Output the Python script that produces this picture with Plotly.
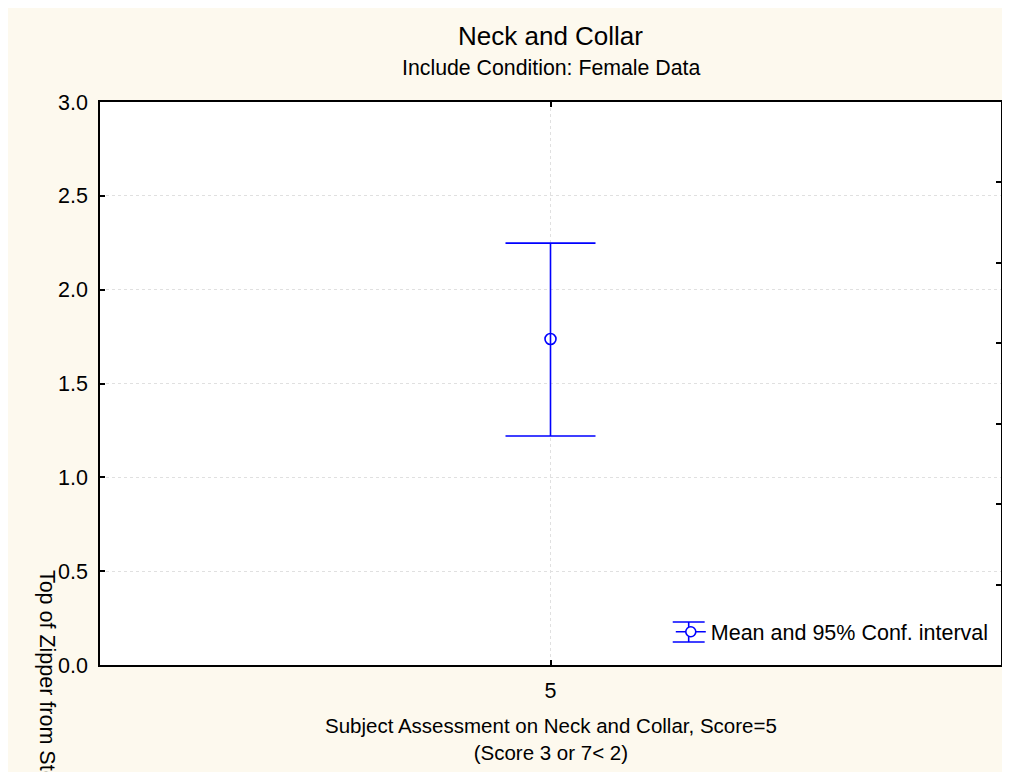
import plotly.graph_objects as go

# ---- data ----
categories = [5]
means = [1.737]
ci_lower = [1.22]
ci_upper = [2.248]
y_ticks = [0.0, 0.5, 1.0, 1.5, 2.0, 2.5, 3.0]
series_name = "Mean and 95% Conf. interval"

err_plus = [u - m for u, m in zip(ci_upper, means)]
err_minus = [m - l for m, l in zip(means, ci_lower)]

BLUE = "#0000FF"
CREAM = "#FDF9EE"
FONT = "Liberation Sans, Arial, sans-serif"
FS = 21.5

FIG_W, FIG_H = 1002, 764
# plot area in figure pixels
L, R, T, B = 92, 995, 94, 657
W, H = R - L, B - T


def px(x):
    return (x - L) / W


def py(y):
    return (B - y) / H


fig = go.Figure()
fig.add_trace(go.Scatter(
    x=categories, y=means, mode="markers",
    marker=dict(symbol="circle-open", size=11, color=BLUE, line=dict(width=1.6, color=BLUE)),
    error_y=dict(type="data", array=err_plus, arrayminus=err_minus, symmetric=False,
                 color=BLUE, thickness=1.6, width=45),
    showlegend=False, cliponaxis=False,
))
# legend entry
fig.add_trace(go.Scatter(
    x=[None], y=[None], mode="lines+markers", name=series_name,
    line=dict(color=BLUE, width=1.6),
    marker=dict(symbol="circle", size=10, color="white", line=dict(width=1.6, color=BLUE)),
    showlegend=True,
))
# dummy for right axis
fig.add_trace(go.Scatter(x=[None], y=[None], yaxis="y2", showlegend=False, hoverinfo="skip"))

axis_common = dict(showline=True, linecolor="black", linewidth=1.5, ticks="inside",
                   ticklen=5, tickcolor="black", tickwidth=1.5,
                   tickfont=dict(family=FONT, size=FS, color="black"))

fig.update_layout(
    width=FIG_W, height=FIG_H,
    margin=dict(l=L, r=FIG_W - R, t=T, b=FIG_H - B),
    paper_bgcolor=CREAM, plot_bgcolor="white",
    font=dict(family=FONT, size=FS, color="black"),
    xaxis=dict(range=[4, 6], tickvals=categories, ticktext=[str(c) for c in categories],
               mirror="ticks", showgrid=True, gridcolor="#E0E0E0", griddash="dot", gridwidth=1,
               zeroline=False, ticklabelstandoff=5, **axis_common),
    yaxis=dict(range=[0, 3], tickvals=y_ticks, ticktext=[f"{v:.1f}" for v in y_ticks],
               mirror=True, showgrid=True, gridcolor="#E0E0E0", griddash="dot", gridwidth=1,
               zeroline=False, ticklabelstandoff=6, **axis_common),
    yaxis2=dict(range=[0, 7], dtick=1, overlaying="y", side="right", showticklabels=False,
                showgrid=False, zeroline=False, showline=True, linecolor="black", linewidth=1.5,
                ticks="inside", ticklen=5, tickcolor="black", tickwidth=1.5),
    legend=dict(x=0.992, y=0.0226, xanchor="right", yanchor="bottom", bgcolor="rgba(0,0,0,0)",
                font=dict(family=FONT, size=FS, color="black")),
    showlegend=True,
)

fig.add_annotation(text="Neck and Collar", xref="paper", yref="paper", x=0.5, y=py(28),
                   xanchor="center", yanchor="middle", showarrow=False,
                   font=dict(family=FONT, size=26, color="black"))
fig.add_annotation(text="Include Condition: Female Data", xref="paper", yref="paper", x=0.5,
                   y=py(60), xanchor="center", yanchor="middle", showarrow=False,
                   font=dict(family=FONT, size=21.3, color="black"))
fig.add_annotation(text="Subject Assessment on Neck and Collar, Score=5<br>(Score 3 or 7< 2)",
                   xref="paper", yref="paper", x=0.5, y=py(731),
                   xanchor="center", yanchor="middle", showarrow=False,
                   font=dict(family=FONT, size=20.5, color="black"))
fig.add_annotation(text="Top of Zipper from Sternum", xref="paper", yref="paper",
                   x=px(39), y=py(560), xanchor="center", yanchor="top",
                   textangle=90, showarrow=False, font=dict(family=FONT, size=21.5, color="black"))

# legend symbol caps (error-bar look)
CX = 682
for yy in (614, 634):
    fig.add_shape(type="line", xref="paper", yref="paper", x0=px(CX - 16), x1=px(CX + 16), y0=py(yy), y1=py(yy),
                  line=dict(color=BLUE, width=1.6))
fig.add_shape(type="line", xref="paper", yref="paper", x0=px(CX), x1=px(CX), y0=py(614), y1=py(634),
              line=dict(color=BLUE, width=1.6), layer="below")

fig.write_html(
    "out.html",
    post_script="document.documentElement.style.overflow='hidden';document.body.style.overflow='hidden';",
)
